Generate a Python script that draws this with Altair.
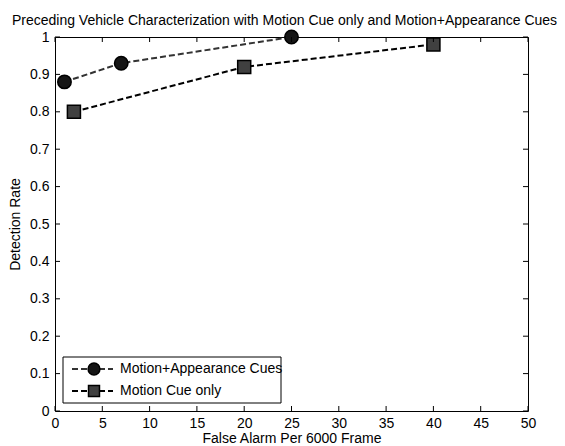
import altair as alt
import pandas as pd

# ---- data ----
x_ticks = [0, 5, 10, 15, 20, 25, 30, 35, 40, 45, 50]
y_ticks = [0, 0.1, 0.2, 0.3, 0.4, 0.5, 0.6, 0.7, 0.8, 0.9, 1.0]
series_names = ["Motion+Appearance Cues", "Motion Cue only"]
ma_x = [1, 7, 25]
ma_y = [0.88, 0.93, 1.0]
mc_x = [2, 20, 40]
mc_y = [0.80, 0.92, 0.98]
title_text = "Preceding Vehicle Characterization with Motion Cue only and Motion+Appearance Cues"
x_title = "False Alarm Per 6000 Frame"
y_title = "Detection Rate"

FONT = "Liberation Sans"
FS = 14
W, H = 473, 374

df_ma = pd.DataFrame({"x": ma_x, "y": ma_y})
df_mc = pd.DataFrame({"x": mc_x, "y": mc_y})
df_xt = pd.DataFrame({"x": x_ticks})
df_yt = pd.DataFrame({"y": y_ticks})
df_one = pd.DataFrame({"k": [0]})

xs = alt.Scale(domain=[0, 50], nice=False, zero=False)
ys = alt.Scale(domain=[0, 1], nice=False, zero=False)

x_axis = alt.Axis(values=x_ticks, format="~g", ticks=False, domain=False, grid=False,
                  labelFlush=False, labelOverlap=False,
                  labelFont=FONT, labelFontSize=FS, labelColor="black", labelPadding=5,
                  title=x_title, titleFont=FONT, titleFontSize=FS, titleFontWeight="normal",
                  titleColor="black", titlePadding=1)
y_axis = alt.Axis(values=y_ticks, format="~g", ticks=False, domain=False, grid=False,
                  labelFlush=False, labelOverlap=False,
                  labelFont=FONT, labelFontSize=FS, labelColor="black", labelPadding=6,
                  title=y_title, titleFont=FONT, titleFontSize=FS, titleFontWeight="normal",
                  titleColor="black", titlePadding=7)

X = alt.X("x:Q", scale=xs, axis=x_axis)
Y = alt.Y("y:Q", scale=ys, axis=y_axis)

# data lines
line_ma = alt.Chart(df_ma).mark_line(strokeDash=[6, 3], strokeWidth=2, color="#333333").encode(x=X, y=Y)
line_mc = alt.Chart(df_mc).mark_line(strokeDash=[6, 3], strokeWidth=2, color="#000000").encode(x=X, y=Y)
pts_ma = alt.Chart(df_ma).mark_point(shape="circle", filled=True, size=180, fill="#151515",
                                     stroke="black", strokeWidth=1.5, opacity=1).encode(x=X, y=Y)
pts_mc = alt.Chart(df_mc).mark_point(shape="square", filled=True, size=170, fill="#404040",
                                     stroke="black", strokeWidth=1.5, opacity=1).encode(x=X, y=Y)

# inward ticks on all four sides
tk = dict(color="black", strokeWidth=1)
xt_bot = alt.Chart(df_xt).mark_rule(**tk).encode(x=X, y=alt.value(H), y2=alt.value(H - 5))
xt_top = alt.Chart(df_xt).mark_rule(**tk).encode(x=X, y=alt.value(0), y2=alt.value(5))
yt_left = alt.Chart(df_yt).mark_rule(**tk).encode(y=Y, x=alt.value(0), x2=alt.value(5))
yt_right = alt.Chart(df_yt).mark_rule(**tk).encode(y=Y, x=alt.value(W), x2=alt.value(W - 5))

# manual legend (lower left)
leg_box = alt.Chart(df_one).mark_rect(fill="white", stroke="black", strokeWidth=1).encode(
    x=alt.value(8), x2=alt.value(226), y=alt.value(320), y2=alt.value(366))
leg_l1 = alt.Chart(df_one).mark_rule(strokeDash=[6, 3], strokeWidth=2, color="#333333").encode(
    x=alt.value(17), x2=alt.value(58), y=alt.value(332))
leg_l2 = alt.Chart(df_one).mark_rule(strokeDash=[6, 3], strokeWidth=2, color="#000000").encode(
    x=alt.value(17), x2=alt.value(58), y=alt.value(354))
leg_p1 = alt.Chart(df_one).mark_point(shape="circle", filled=True, size=140, fill="#151515",
                                      stroke="black", strokeWidth=1.5, opacity=1).encode(
    x=alt.value(39), y=alt.value(332))
leg_p2 = alt.Chart(df_one).mark_point(shape="square", filled=True, size=120, fill="#404040",
                                      stroke="black", strokeWidth=1.5, opacity=1).encode(
    x=alt.value(39), y=alt.value(354))
leg_t1 = alt.Chart(df_one).mark_text(align="left", baseline="middle", font=FONT, fontSize=FS,
                                     fontWeight="normal", color="black", text=series_names[0]).encode(
    x=alt.value(65), y=alt.value(332))
leg_t2 = alt.Chart(df_one).mark_text(align="left", baseline="middle", font=FONT, fontSize=FS,
                                     fontWeight="normal", color="black", text=series_names[1]).encode(
    x=alt.value(65), y=alt.value(354))

chart = alt.layer(
    line_ma, line_mc, pts_ma, pts_mc,
    xt_bot, xt_top, yt_left, yt_right,
    leg_box, leg_l1, leg_l2, leg_p1, leg_p2, leg_t1, leg_t2,
).properties(
    width=W, height=H,
    title=alt.Title(title_text, font=FONT, fontSize=14, fontWeight="normal", color="black",
                    anchor="middle", offset=-1, dx=-7),
    autosize=alt.AutoSizeParams(type="none"),
    padding={"left": 47, "top": 29, "right": 29, "bottom": 38},
    background="white",
).configure_view(stroke="black", strokeWidth=1)

chart.save("out.html", embed_options={"renderer": "svg", "actions": False})
